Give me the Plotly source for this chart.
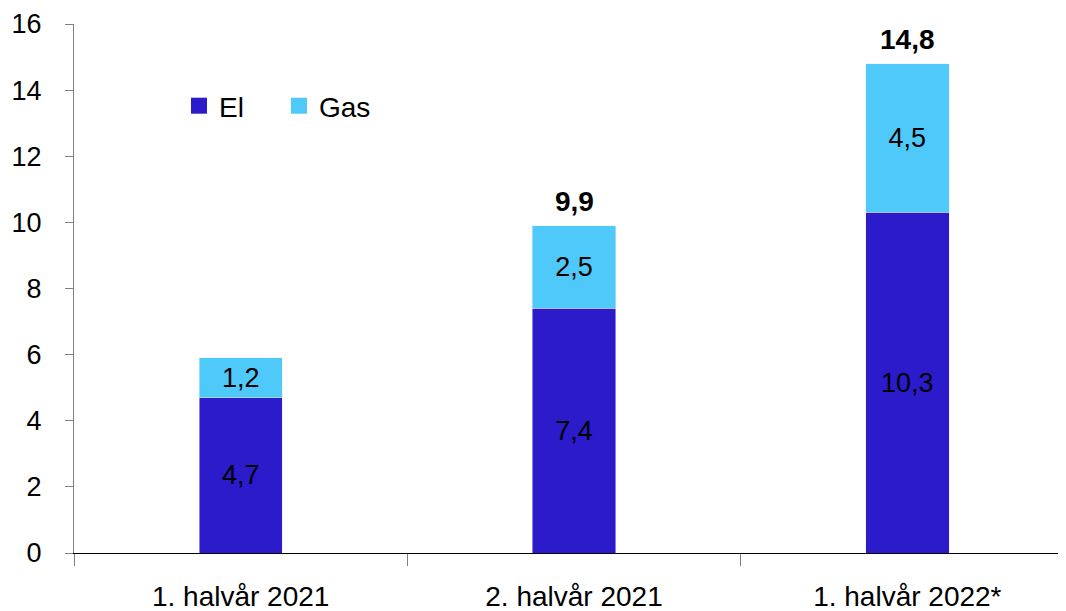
import plotly.graph_objects as go

# Halvår og beløb (mia. kr.)
perioder = ["1. halvår 2021", "2. halvår 2021", "1. halvår 2022*"]
el = [4.7, 7.4, 10.3]
gas = [1.2, 2.5, 4.5]
total_labels = ["", "9,9", "14,8"]
totaler = [5.9, 9.9, 14.8]

COLOR_EL = "#2B1BCB"
COLOR_GAS = "#4FC9F9"
FONT = "Liberation Sans, Arial, sans-serif"


def komma(v):
    return f"{v:.1f}".replace(".", ",")


fig = go.Figure()
fig.add_bar(x=perioder, y=el, name="El", marker_color=COLOR_EL, showlegend=False,
            text=[komma(v) for v in el], textposition="inside",
            insidetextanchor="middle", textfont=dict(size=27, color="black"))
fig.add_bar(x=perioder, y=gas, name="Gas", marker_color=COLOR_GAS, showlegend=False,
            text=[komma(v) for v in gas], textposition="inside",
            insidetextanchor="middle", textfont=dict(size=27, color="black"))

# legendefelter med store kvadrater
for navn, farve in [("El", COLOR_EL), ("Gas", COLOR_GAS)]:
    fig.add_scatter(x=[None], y=[None], mode="markers", name=navn,
                    marker=dict(symbol="square", size=17, color=farve))

for p, t, lab in zip(perioder, totaler, total_labels):
    if lab:
        fig.add_annotation(x=p, y=t, text=f"<b>{lab}</b>", showarrow=False,
                           yshift=24, font=dict(size=28, color="black"))

# siden har 8 px body-margen, så marginerne er trukket 8 px ind
fig.update_layout(
    barmode="stack", bargap=0.75, separators=",.",
    width=1066, height=611, margin=dict(l=66, r=0, t=16, b=66),
    plot_bgcolor="white", paper_bgcolor="white",
    font=dict(family=FONT, size=27, color="black"),
    legend=dict(orientation="h", x=0.105, y=0.845, yanchor="middle",
                xanchor="left", font=dict(size=28), traceorder="normal",
                entrywidth=55, itemwidth=30, bgcolor="rgba(0,0,0,0)"),
)
fig.update_xaxes(range=[-0.5, 2.5], showline=True, linecolor="black",
                 linewidth=1, ticks="outside", tickson="boundaries",
                 ticklen=12, tickcolor="#808080", tickfont=dict(size=28),
                 ticklabelstandoff=18, automargin=False)
fig.update_yaxes(range=[0, 16], dtick=2, showline=True, linecolor="#808080",
                 linewidth=1, ticks="outside", ticklen=8, tickcolor="#808080",
                 showgrid=False, zeroline=False, tickfont=dict(size=27),
                 ticklabelstandoff=18, automargin=False)

fig.write_html("out.html")
